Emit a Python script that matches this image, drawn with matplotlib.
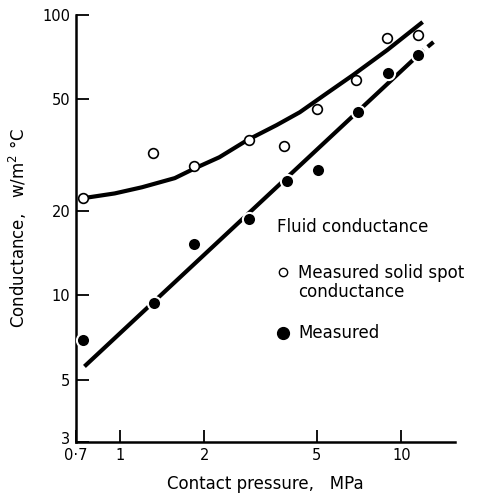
import matplotlib.pyplot as plt
import matplotlib.transforms as mtransforms
import numpy as np

# open circles: measured solid spot conductance
solid_p = [0.744, 1.31, 1.84, 2.87, 3.82, 5.01, 6.91, 8.91, 11.5]
solid_c = [22.2, 32.1, 28.9, 35.8, 34.0, 46.2, 58.6, 82.8, 84.8]

# filled circles: measured
meas_p = [0.744, 1.32, 1.83, 2.87, 3.92, 5.06, 7.03, 8.98, 11.5]
meas_c = [6.96, 9.37, 15.2, 18.8, 25.5, 27.9, 45.0, 62.1, 71.9]

# upper smooth curve
curve_p = [0.76, 0.96, 1.20, 1.57, 1.85, 2.26, 2.84, 3.61, 4.36, 5.44, 6.74, 8.91, 11.9]
curve_c = [22.3, 23.1, 24.3, 26.2, 28.4, 31.1, 35.8, 40.5, 45.0, 52.6, 61.1, 75.0, 94.4]

# fluid conductance straight line (+ short dashed tail)
fluid_p = [0.75, 12.0]
fluid_c = [5.58, 75.0]
tail_p = [12.4, 13.0]
tail_c = [77.0, 80.1]

xticks = [0.7, 1, 2, 5, 10]
xlabels = ['0·7', '1', '2', '5', '10']
yticks = [3, 5, 10, 20, 50, 100]
ylabels = ['3', '5', '10', '20', '50', '100']

plt.rcParams['font.family'] = 'DejaVu Sans'
fig = plt.figure(figsize=(4.78, 4.98), dpi=100)
ax = fig.add_axes([76/478, 1-442/498, 379/478, 427/498])

ax.plot(curve_p, curve_c, color='k', lw=3, solid_capstyle='butt', zorder=2)
ax.plot(fluid_p, fluid_c, color='k', lw=3, solid_capstyle='butt', zorder=2)
ax.plot(tail_p, tail_c, color='k', lw=3, solid_capstyle='butt', zorder=2)
ax.plot(solid_p, solid_c, 'o', ms=7, mfc='white', mec='k', mew=1.2, zorder=3)
ax.plot(meas_p, meas_c, 'o', ms=9.5, mfc='k', mec='white', mew=1.5, zorder=3)

ax.set_xscale('log')
ax.set_yscale('log')
ax.set_xlim(0.7, 15.5)
ax.set_ylim(3, 100)
ax.set_xticks(xticks)
ax.set_xticklabels(xlabels)
ax.set_yticks(yticks)
ax.set_yticklabels(ylabels)
ax.minorticks_off()
ax.tick_params(direction='in', length=9, width=1.3, labelsize=10.5, pad=4)
ax.spines['top'].set_visible(False)
ax.spines['right'].set_visible(False)
ax.spines['left'].set_linewidth(1.8)
ax.spines['bottom'].set_linewidth(1.8)

# nudge the "3" up a bit so it clears "0·7"
lab3 = ax.get_yticklabels()[0]
lab3.set_transform(lab3.get_transform() + mtransforms.ScaledTranslation(0, 3/72, fig.dpi_scale_trans))

ax.set_xlabel('Contact pressure,   MPa', fontsize=12, labelpad=9)
ax.set_ylabel('Conductance,   w/m$^2$ °C', fontsize=12, labelpad=10)

# legend written by hand
ax.text(0.530, 0.503, 'Fluid conductance', transform=ax.transAxes, fontsize=12, va='center')
ax.plot([0.546], [0.398], 'o', ms=6, mfc='white', mec='k', mew=1, transform=ax.transAxes)
ax.text(0.586, 0.3735, 'Measured solid spot\nconductance', transform=ax.transAxes,
        fontsize=12, va='center', linespacing=1.05)
ax.plot([0.546], [0.255], 'o', ms=8.5, color='k', transform=ax.transAxes)
ax.text(0.586, 0.255, 'Measured', transform=ax.transAxes, fontsize=12, va='center')

fig.savefig('out.png', dpi=100)
